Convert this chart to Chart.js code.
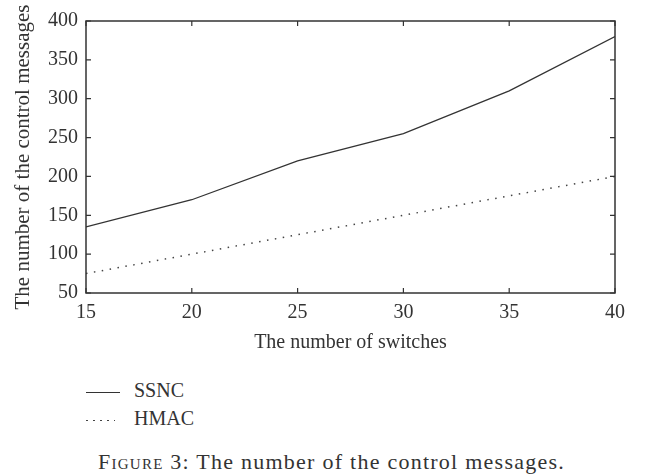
<!DOCTYPE html>
<html>
<head>
<meta charset="utf-8">
<script src="https://cdn.jsdelivr.net/npm/chart.js@4"></script>
<style>
body{margin:0;background:#fff;width:645px;height:475px;overflow:hidden;position:relative;font-family:"Liberation Serif","DejaVu Serif",serif;color:#333;}
#chart{position:absolute;left:0;top:0;}
.leg{position:absolute;left:86px;font-size:20px;line-height:24px;}
.leg span.ln{display:inline-block;width:34px;height:1.3px;vertical-align:middle;margin-right:14px;}
#cap{position:absolute;left:98px;top:449px;font-size:22px;line-height:26px;letter-spacing:1.25px;white-space:nowrap;}
</style>
</head>
<body>
<canvas id="chart" width="645" height="360"></canvas>
<div class="leg" style="top:378px"><span class="ln" style="background:#333"></span>SSNC</div>
<div class="leg" style="top:406px"><span class="ln" style="background:repeating-linear-gradient(to right,#444 0 1.5px,transparent 1.5px 7px)"></span>HMAC</div>
<div id="cap"><span style="font-variant:small-caps">Figure</span> 3: The number of the control messages.</div>
<script>
var switches=[15,20,25,30,35,40];
var ssnc=[135,170,220,255,310,380];
var hmac=[75,100,125,150,175,200];
var xTicks=[15,20,25,30,35,40];
var yTicks=[50,100,150,200,250,300,350,400];

function pts(ys){return switches.map(function(x,i){return {x:x,y:ys[i]};});}

var frame={
	id:'frame',
	afterDraw:function(c){
		var ctx=c.ctx,a=c.chartArea,xs=c.scales.x,ys=c.scales.y,t=5;
		ctx.save();
		ctx.strokeStyle='#333';ctx.lineWidth=1.5;
		ctx.strokeRect(a.left,a.top,a.right-a.left,a.bottom-a.top);
		ctx.lineWidth=1.2;
		ctx.beginPath();
		xTicks.forEach(function(v){
			var p=xs.getPixelForValue(v);
			ctx.moveTo(p,a.bottom);ctx.lineTo(p,a.bottom-t);
			ctx.moveTo(p,a.top);ctx.lineTo(p,a.top+t);
		});
		yTicks.forEach(function(v){
			var p=ys.getPixelForValue(v);
			ctx.moveTo(a.left,p);ctx.lineTo(a.left+t,p);
			ctx.moveTo(a.right,p);ctx.lineTo(a.right-t,p);
		});
		ctx.stroke();
		ctx.restore();
	}
};

var fam='"Liberation Serif","DejaVu Serif",serif';
var font={family:fam,size:20};
new Chart(document.getElementById('chart'),{
	type:'line',
	data:{datasets:[
		{label:'SSNC',data:pts(ssnc),borderColor:'#333',borderWidth:1.3,pointRadius:0,fill:false,tension:0},
		{label:'HMAC',data:pts(hmac),borderColor:'#444',borderWidth:1.5,borderDash:[1.5,6.5],pointRadius:0,fill:false,tension:0}
	]},
	options:{
		responsive:false,animation:false,
		layout:{padding:{left:0,top:21,right:30,bottom:0}},
		plugins:{legend:{display:false},tooltip:{enabled:false}},
		scales:{
			x:{type:'linear',min:15,max:40,
				afterBuildTicks:function(s){s.ticks=xTicks.map(function(v){return {value:v};});},
				afterFit:function(s){s.height=67;},
				grid:{display:false,drawTicks:false},border:{display:false},
				ticks:{color:'#333',font:font,padding:8,maxRotation:0},
				title:{display:true,text:'The number of switches',color:'#333',font:{family:fam,size:20},padding:{top:0,bottom:5}}},
			y:{min:50,max:400,
				afterBuildTicks:function(s){s.ticks=yTicks.map(function(v){return {value:v};});},
				afterFit:function(s){s.width=86;},
				grid:{display:false,drawTicks:false},border:{display:false},
				ticks:{color:'#333',font:font,padding:8},
				title:{display:true,text:'The number of the control messages',color:'#333',font:{family:fam,size:21},padding:{top:11,bottom:0}}}
		}
	},
	plugins:[frame]
});
</script>
</body>
</html>
